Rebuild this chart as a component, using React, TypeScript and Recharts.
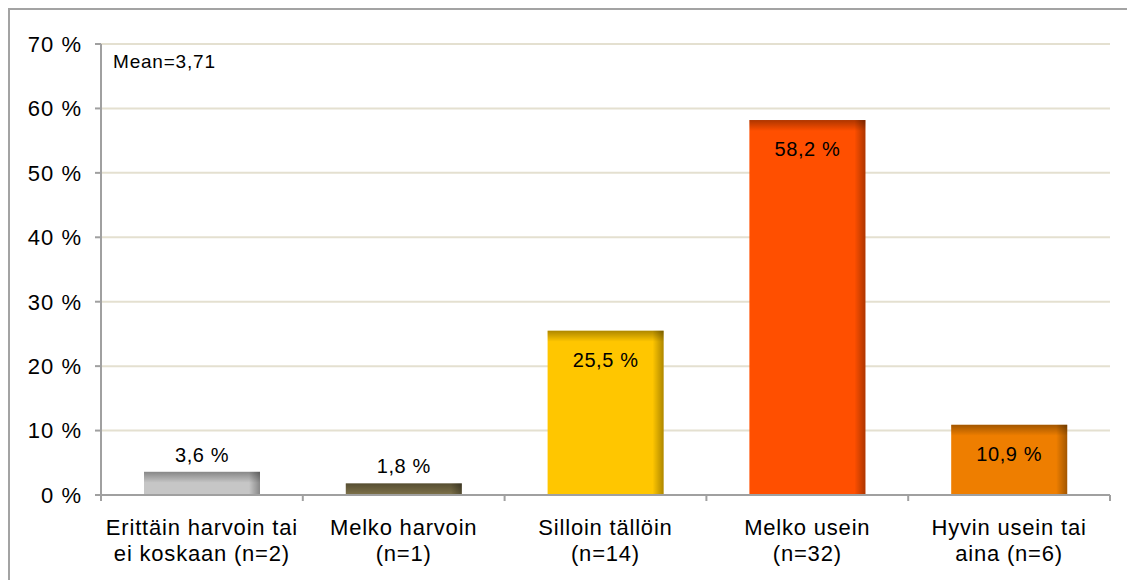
import React from 'react';
import { BarChart, Bar, XAxis, YAxis, CartesianGrid, LabelList, Cell } from 'recharts';

const categories = [
  'Erittäin harvoin tai\nei koskaan (n=2)',
  'Melko harvoin\n(n=1)',
  'Silloin tällöin\n(n=14)',
  'Melko usein\n(n=32)',
  'Hyvin usein tai\naina (n=6)',
];
const shares = [3.6, 1.8, 25.5, 58.2, 10.9];
const barColors = ['#c6c6c6', '#7d7149', '#ffc600', '#ff4f00', '#ee7e00'];
const yTicks = [0, 10, 20, 30, 40, 50, 60, 70];
const meanText = 'Mean=3,71';

const data = categories.map((name, i) => ({ name, value: shares[i] }));

const CHART_W = 1125;
const CHART_H = 570;
const MARGIN = { top: 34, right: 25, left: 0, bottom: 0 };
const Y_WIDTH = 91;
const BAND = (CHART_W - MARGIN.right - MARGIN.left - Y_WIDTH) / categories.length;
const FONT = '"Liberation Sans", Arial, sans-serif';

// bar with a soft inner shadow along the top and right edges
const ShadedBar = (props: any) => {
  const { x, y, width, height, fill } = props;
  if (height <= 0) return null;
  const edge = Math.min(11, height);
  return (
    <g>
      <rect x={x} y={y} width={width} height={height} fill={fill} />
      <rect x={x + width - 11} y={y} width={11} height={height} fill="url(#shadeRight)" />
      <rect x={x} y={y} width={width} height={edge} fill="url(#shadeTop)" />
    </g>
  );
};

const CategoryTick = (props: any) => {
  const { x, y, payload, index } = props;
  const lines = String(payload.value).split('\n');
  const half = BAND / 2;
  return (
    <g>
      <line x1={x - half} y1={y - 8} x2={x - half} y2={y - 2} stroke="#a0a0a0" strokeWidth={2} />
      {index === categories.length - 1 && (
        <line x1={x + half} y1={y - 8} x2={x + half} y2={y - 2} stroke="#a0a0a0" strokeWidth={2} />
      )}
      {lines.map((line, i) => (
        <text
          key={i}
          x={x}
          y={y + 24 + i * 26}
          textAnchor="middle"
          dominantBaseline="central"
          fill="#000"
          fontSize={22}
          letterSpacing={0.8}
          fontFamily={FONT}
        >
          {line}
        </text>
      ))}
    </g>
  );
};

const ValueLabel = (props: any) => {
  const { x, y, width, value } = props;
  const inside = value >= 5;
  return (
    <text
      x={x + width / 2}
      y={inside ? y + 29 : y - 17}
      textAnchor="middle"
      dominantBaseline="central"
      fill="#000"
      fontSize={20}
      letterSpacing={0.6}
      fontFamily={FONT}
    >
      {String(value).replace('.', ',') + ' %'}
    </text>
  );
};

export default function App() {
  return (
    <div
      style={{
        width: CHART_W,
        height: CHART_H,
        borderTop: '2px solid #a3a3a3',
        borderLeft: '2px solid #a3a3a3',
        position: 'relative',
        background: '#fff',
        fontFamily: FONT,
      }}
    >
      <style>{'body{overflow:hidden}'}</style>
      <BarChart width={CHART_W} height={CHART_H} data={data} margin={MARGIN}>
        <defs>
          <linearGradient id="shadeRight" x1="0" y1="0" x2="1" y2="0">
            <stop offset="0%" stopColor="#000" stopOpacity={0} />
            <stop offset="100%" stopColor="#000" stopOpacity={0.32} />
          </linearGradient>
          <linearGradient id="shadeTop" x1="0" y1="0" x2="0" y2="1">
            <stop offset="0%" stopColor="#000" stopOpacity={0.32} />
            <stop offset="100%" stopColor="#000" stopOpacity={0} />
          </linearGradient>
        </defs>
        <CartesianGrid vertical={false} stroke="#e4e0d0" strokeWidth={2} />
        <XAxis
          dataKey="name"
          height={85}
          interval={0}
          tickLine={false}
          axisLine={{ stroke: '#a0a0a0', strokeWidth: 2 }}
          tick={<CategoryTick />}
        />
        <YAxis
          width={Y_WIDTH}
          domain={[0, 70]}
          ticks={yTicks}
          interval={0}
          tickSize={6}
          tickMargin={13}
          tickLine={{ stroke: '#a0a0a0', strokeWidth: 2 }}
          axisLine={{ stroke: '#a0a0a0', strokeWidth: 2 }}
          tickFormatter={(v: number) => `${v} %`}
          tick={{ fill: '#000', fontSize: 22, letterSpacing: 1, fontFamily: FONT }}
        />
        <Bar dataKey="value" barSize={116} shape={<ShadedBar />} isAnimationActive={false}>
          {data.map((_, i) => (
            <Cell key={i} fill={barColors[i]} />
          ))}
          <LabelList dataKey="value" content={<ValueLabel />} />
        </Bar>
      </BarChart>
      <div
        style={{
          position: 'absolute',
          left: 103,
          top: 41,
          fontSize: 19,
          letterSpacing: 0.8,
          color: '#000',
        }}
      >
        {meanText}
      </div>
    </div>
  );
}
